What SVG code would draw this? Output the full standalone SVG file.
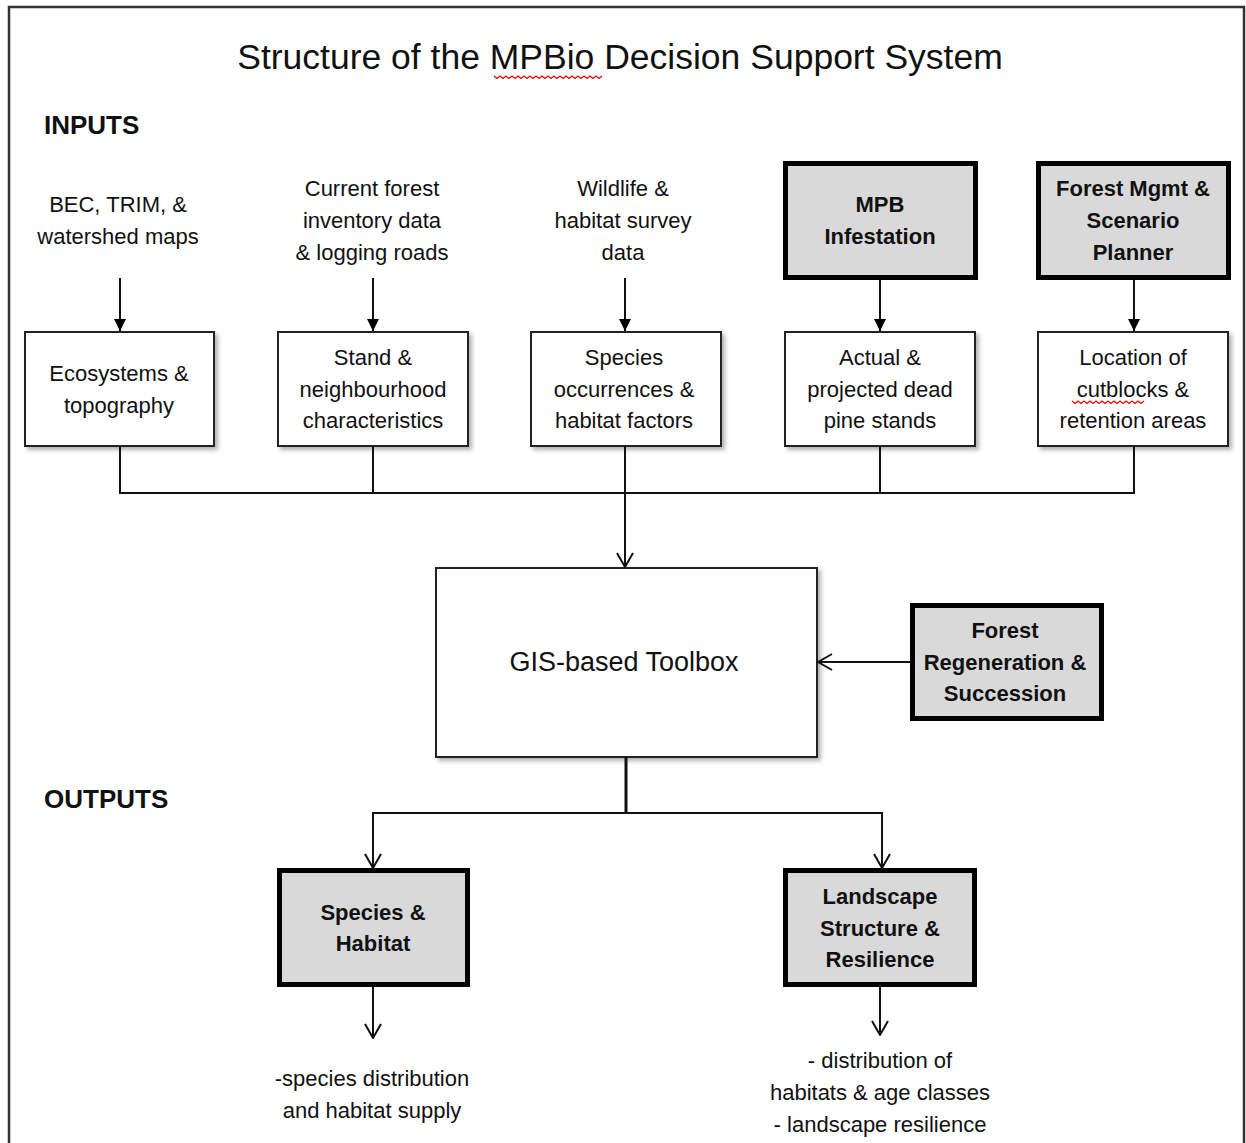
<svg xmlns="http://www.w3.org/2000/svg" width="1246" height="1143" viewBox="0 0 1246 1143">
<style>
text{font-family:"Liberation Sans",Arial,sans-serif;fill:#111;text-anchor:middle}
.t{font-size:22px}
.b{font-size:22px;font-weight:bold}
.h{font-size:26px;font-weight:bold;text-anchor:start}
.thin{fill:#fff;stroke:#222;stroke-width:2}
.thick{fill:#d9d9d9;stroke:#000;stroke-width:5}
.ln{fill:none;stroke:#111;stroke-width:2}
.sq{fill:none;stroke:#e00;stroke-width:1.2}
</style>
<defs>
<filter id="sh" x="-10%" y="-10%" width="130%" height="130%">
<feDropShadow dx="3" dy="3" stdDeviation="2" flood-color="#000" flood-opacity="0.3"/>
</filter>
<marker id="fa" viewBox="0 0 12 12" refX="12" refY="6" markerWidth="12" markerHeight="12" markerUnits="userSpaceOnUse" orient="auto">
<path d="M0,0 L12,6 L0,12 Z" fill="#000"/>
</marker>
<marker id="oa" viewBox="0 0 16 18" refX="15" refY="9" markerWidth="16" markerHeight="18" markerUnits="userSpaceOnUse" orient="auto">
<path d="M1,1 L15,9 L1,17" fill="none" stroke="#111" stroke-width="2"/>
</marker>
</defs>
<rect width="1246" height="1143" fill="#fff"/>
<rect x="9" y="7" width="1235" height="1160" fill="none" stroke="#333" stroke-width="2.5"/>
<text x="620" y="69" style="font-size:35.5px">Structure of the MPBio Decision Support System</text>
<path class="sq" d="M494,76 l3,2.5 l3,-2.5 l3,2.5 l3,-2.5 l3,2.5 l3,-2.5 l3,2.5 l3,-2.5 l3,2.5 l3,-2.5 l3,2.5 l3,-2.5 l3,2.5 l3,-2.5 l3,2.5 l3,-2.5 l3,2.5 l3,-2.5 l3,2.5 l3,-2.5 l3,2.5 l3,-2.5 l3,2.5 l3,-2.5 l3,2.5 l3,-2.5 l3,2.5 l3,-2.5 l3,2.5 l3,-2.5 l3,2.5 l3,-2.5 l3,2.5 l3,-2.5 l3,2.5 l3,-2.5"/>
<text class="h" x="44" y="134">INPUTS</text>
<text class="h" x="44" y="808">OUTPUTS</text>

<g id="src1"><text class="t" x="118" y="212">BEC, TRIM,  &amp;</text><text class="t" x="118" y="244">watershed maps</text></g>
<g id="src2"><text class="t" x="372" y="196">Current forest</text><text class="t" x="372" y="228">inventory data</text><text class="t" x="372" y="260">&amp; logging roads</text></g>
<g id="src3"><text class="t" x="623" y="196">Wildlife  &amp;</text><text class="t" x="623" y="228">habitat survey</text><text class="t" x="623" y="260">data</text></g>
<g id="mpb"><rect class="thick" x="785.5" y="163.5" width="190" height="114"/><text class="b" x="880" y="212">MPB</text><text class="b" x="880" y="244">Infestation</text></g>
<g id="fmgmt"><rect class="thick" x="1038.5" y="163.5" width="190" height="114"/><text class="b" x="1133" y="196">Forest Mgmt &amp;</text><text class="b" x="1133" y="228">Scenario</text><text class="b" x="1133" y="260">Planner</text></g>

<g id="eco"><rect class="thin" filter="url(#sh)" x="25" y="332" width="189" height="114"/><text class="t" x="119" y="381">Ecosystems &amp;</text><text class="t" x="119" y="413">topography</text></g>
<g id="stand"><rect class="thin" filter="url(#sh)" x="278" y="332" width="190" height="114"/><text class="t" x="373" y="365">Stand &amp;</text><text class="t" x="373" y="397">neighbourhood</text><text class="t" x="373" y="428">characteristics</text></g>
<g id="species"><rect class="thin" filter="url(#sh)" x="531" y="332" width="190" height="114"/><text class="t" x="624" y="365">Species</text><text class="t" x="624" y="397">occurrences &amp;</text><text class="t" x="624" y="428">habitat factors</text></g>
<g id="actual"><rect class="thin" filter="url(#sh)" x="785" y="332" width="190" height="114"/><text class="t" x="880" y="365">Actual &amp;</text><text class="t" x="880" y="397">projected dead</text><text class="t" x="880" y="428">pine stands</text></g>
<g id="location"><rect class="thin" filter="url(#sh)" x="1038" y="332" width="190" height="114"/><text class="t" x="1133" y="365">Location of</text><text class="t" x="1133" y="397">cutblocks &amp;</text><text class="t" x="1133" y="428">retention areas</text>
<path class="sq" d="M1072,401 l3,2.5 l3,-2.5 l3,2.5 l3,-2.5 l3,2.5 l3,-2.5 l3,2.5 l3,-2.5 l3,2.5 l3,-2.5 l3,2.5 l3,-2.5 l3,2.5 l3,-2.5 l3,2.5 l3,-2.5 l3,2.5 l3,-2.5 l3,2.5 l3,-2.5 l3,2.5 l3,-2.5 l3,2.5 l3,-2.5"/></g>

<g id="gis"><rect class="thin" filter="url(#sh)" x="436" y="568" width="381" height="189"/><text x="624" y="671" style="font-size:27px">GIS-based Toolbox</text></g>
<g id="regen"><rect class="thick" x="912.5" y="605.5" width="189" height="113"/><text class="b" x="1005" y="638">Forest</text><text class="b" x="1005" y="670">Regeneration &amp;</text><text class="b" x="1005" y="701">Succession</text></g>

<g id="sphab"><rect class="thick" x="279.5" y="870.5" width="188" height="114"/><text class="b" x="373" y="920">Species &amp;</text><text class="b" x="373" y="951">Habitat</text></g>
<g id="land"><rect class="thick" x="785.5" y="870.5" width="189" height="114"/><text class="b" x="880" y="904">Landscape</text><text class="b" x="880" y="936">Structure &amp;</text><text class="b" x="880" y="967">Resilience</text></g>

<g id="out1"><text class="t" x="372" y="1086">-species distribution</text><text class="t" x="372" y="1118">and habitat  supply</text></g>
<g id="out2"><text class="t" x="880" y="1068">- distribution of</text><text class="t" x="880" y="1100">habitats &amp; age classes</text><text class="t" x="880" y="1132">- landscape resilience</text></g>

<g id="connectors">
<line class="ln" x1="120" y1="278" x2="120" y2="331" marker-end="url(#fa)"/>
<line class="ln" x1="373" y1="278" x2="373" y2="331" marker-end="url(#fa)"/>
<line class="ln" x1="625" y1="278" x2="625" y2="331" marker-end="url(#fa)"/>
<line class="ln" x1="880" y1="280" x2="880" y2="331" marker-end="url(#fa)"/>
<line class="ln" x1="1134" y1="280" x2="1134" y2="331" marker-end="url(#fa)"/>
<path class="ln" d="M120,446 V493 H1134 V446 M373,446 V493 M880,446 V493"/>
<line class="ln" x1="625" y1="446" x2="625" y2="567" marker-end="url(#oa)"/>
<line class="ln" x1="910" y1="662" x2="818" y2="662" marker-end="url(#oa)"/>
<line x1="626" y1="757" x2="626" y2="813" stroke="#111" stroke-width="3"/>
<path class="ln" d="M626,813 H373 V868" marker-end="url(#oa)"/>
<path class="ln" d="M626,813 H882 V868" marker-end="url(#oa)"/>
<line class="ln" x1="373" y1="987" x2="373" y2="1038" marker-end="url(#oa)"/>
<line class="ln" x1="880" y1="987" x2="880" y2="1035" marker-end="url(#oa)"/>
</g>
</svg>
